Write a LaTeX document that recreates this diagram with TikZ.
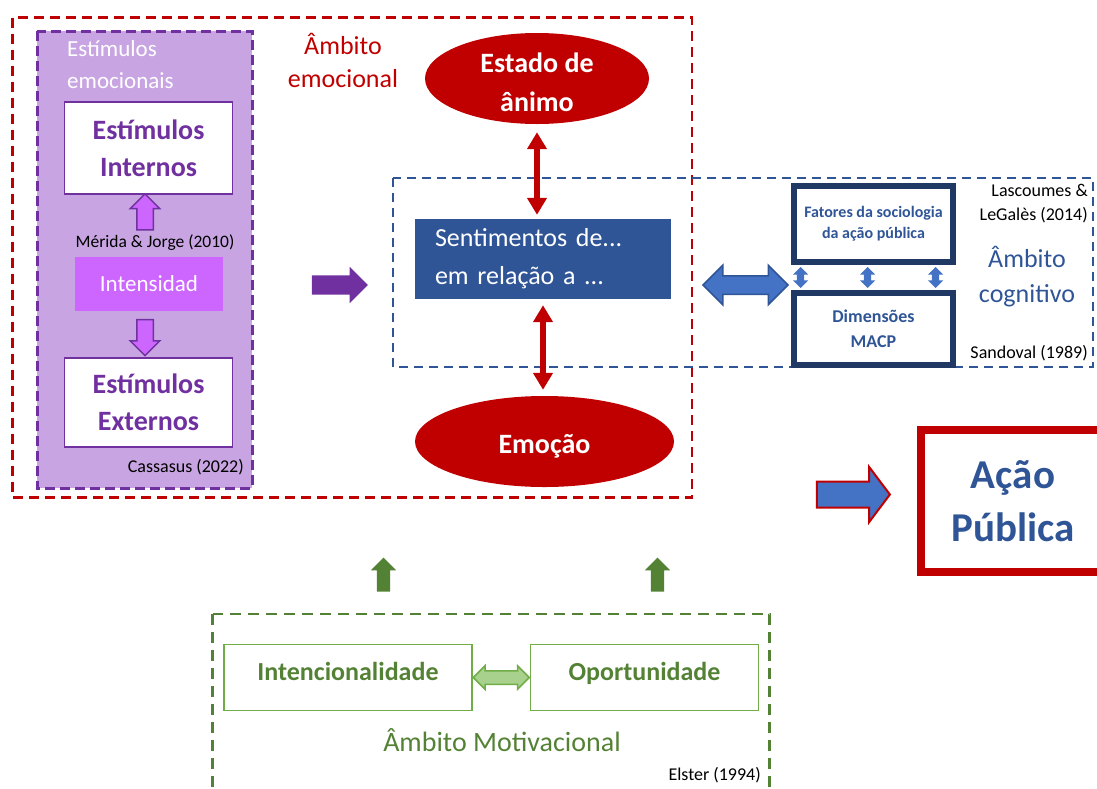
\documentclass[tikz,border=0pt]{standalone}
\usepackage{fontspec}
\setmainfont{Carlito}
\usepackage{tikz}
\usetikzlibrary{arrows.meta}
\usetikzlibrary{shapes.geometric}
\usetikzlibrary{shapes.arrows}

\definecolor{emored}{HTML}{C00000}
\definecolor{stimpurple}{HTML}{7030A0}
\definecolor{stimlilac}{HTML}{C8A5E2}
\definecolor{stimpink}{HTML}{CC66FF}
\definecolor{cogblue}{HTML}{2F5597}
\definecolor{cogmid}{HTML}{4472C4}
\definecolor{cognavy}{HTML}{203864}
\definecolor{motgreen}{HTML}{548235}
\definecolor{motline}{HTML}{70AD47}
\definecolor{motlight}{HTML}{A9D18E}

\newcommand{\fsz}[2]{\fontsize{#1}{#2}\selectfont}

\tikzset{
  stimbox/.style={draw=stimpurple,line width=1.5,fill=white,minimum width=168,minimum height=92,
    text=stimpurple,font=\bfseries\fsz{28}{37},align=center},
  stimarrow/.style={single arrow,draw=stimpurple,line width=1.5,fill=stimpink,inner sep=7.5,
    minimum height=36,single arrow head extend=6.5},
  cogbox/.style={draw=cognavy,line width=6,minimum width=159,minimum height=76,
    text=cogblue,align=center,font=\bfseries\fsz{16}{21}},
  cogarrow/.style={double arrow,shape border rotate=90,fill=cogmid,inner sep=3.5,
    minimum height=21,double arrow head extend=4},
  motbox/.style={draw=motline,line width=1.5,minimum height=66,text=motgreen,
    text height=0.7em,text depth=0.2em,font=\bfseries\fsz{26}{30}},
  motarrow/.style={single arrow,shape border rotate=90,fill=motgreen,inner sep=6.5,
    minimum height=34,single arrow head extend=6},
  emoell/.style={ellipse,fill=emored,inner sep=0},
  emotext/.style={text=white,font=\bfseries\fsz{28}{39},align=center},
  citetext/.style={font=\fsz{18}{24},align=right,inner sep=0},
  twoway/.style={draw=emored,line width=6,{Triangle[length=17pt,width=19pt]}-{Triangle[length=17pt,width=19pt]}},
}

\begin{document}
\begin{tikzpicture}[x=1pt,y=-1pt]
  \useasboundingbox (0,0) rectangle (1097,788);
  % ambito emocional
  \draw[emored,line width=2.5,dash pattern=on 10 off 6] (12.5,17.5) rectangle (692,497.5);
  \node[text=emored,font=\fsz{26}{33},align=center] (emolabel) at (343,60) {Âmbito\\emocional};
  % estimulos emocionais
  \draw[stimpurple,fill=stimlilac,line width=3,dash pattern=on 10 off 5] (37,31) rectangle (252,488);
  \node[anchor=west,text=white,font=\fsz{23}{32},align=left,inner sep=0] (stimlabel) at (67,64.5) {Estímulos\\emocionais};
  \node[stimbox] (internos) at (148.5,148) {Estímulos\\Internos};
  \node[stimbox,minimum height=89] (externos) at (148.5,402.5) {Estímulos\\Externos};
  \node[fill=stimpink,minimum width=148,minimum height=54,text=white,font=\fsz{23}{28}] (intens) at (149,284) {Intensidad};
  \node[font=\fsz{17.5}{20},inner sep=0] (merida) at (155,243) {Mérida \& Jorge (2010)};
  \node[stimarrow,shape border rotate=90] (up) at (145,216) {};
  \node[stimarrow,shape border rotate=270] (down) at (145,333.5) {};
  \node[citetext,anchor=east] (cassasus) at (244,467) {Cassasus (2022)};
  \node[single arrow,fill=stimpurple,inner sep=9.5,minimum height=56,
    single arrow head extend=8.5] (tosent) at (335,285) {};
  % estado de animo / emocao
  \node[emoell,minimum width=224,minimum height=91] (animo) at (537,78.5) {};
  \node[emotext] (animotext) at ([yshift=-4]animo.center) {Estado de\\ânimo};
  \node[emoell,minimum width=259,minimum height=91] (emocao) at (544.5,441.5) {};
  \node[emotext] (emocaotext) at ([yshift=-5]emocao.center) {Emoção};
  % ambito cognitivo
  \draw[cogblue,line width=2.5,dash pattern=on 9 off 6] (393,178) rectangle (1093,367);
  \node[fill=cogblue,minimum width=256,minimum height=80,text width=216,inner xsep=20,
    align=left,text=white,font=\fsz{26}{38}] (sent) at (543,259) {Sentimentos de...\\em relação a ...};
  \draw[twoway,shorten <=8,shorten >=4] (animo.south) -- (animo.south |- sent.north);
  \draw[twoway,shorten <=6,shorten >=6] (sent.south) -- (sent.south |- emocao.north);
  \node[double arrow,draw=cogblue,line width=1.5,fill=cogmid,inner sep=8.5,minimum height=85,
    double arrow head extend=10.5] (link) at (745.5,285) {};
  \node[cogbox] (fatores) at (873.5,224) {Fatores da sociologia\\da ação pública};
  \node[cogbox,minimum height=72,font=\bfseries\fsz{18}{25}] (dimens) at (873.5,329) {Dimensões\\MACP};
  \foreach \dx in {-73,-6,62}
    \path ([xshift=\dx]fatores.south) -- ([xshift=\dx]dimens.north) node[midway,cogarrow] {};
  \node[citetext,anchor=east] (lascoumes) at (1088,204) {Lascoumes \&\\LeGalès (2014)};
  \node[text=cogblue,font=\fsz{26}{35},align=center] (coglabel) at (1027,276.5) {Âmbito\\cognitivo};
  \node[citetext,anchor=east] (sandoval) at (1088,353) {Sandoval (1989)};
  % acao publica
  \node[single arrow,draw=emored,line width=2,fill=cogmid,inner sep=12,minimum height=73,
    single arrow head extend=14.5,single arrow tip angle=106] (toacao) at (848.5,494.5) {};
  \node[draw=emored,line width=8,minimum width=184,minimum height=142,text=cogblue,
    font=\bfseries\fsz{41}{53},align=center] (acao) at (1013,501) {Ação\\Pública};
  % ambito motivacional
  \node[motarrow] (upleft) at (383.5,578) {};
  \node[motarrow] (upright) at (657.5,578) {};
  \draw[motgreen,line width=2.5,dash pattern=on 11 off 7] (212.5,614) rectangle (769.5,800);
  \node[motbox,minimum width=248] (intenc) at (348,677.5) {Intencionalidade};
  \node[motbox,minimum width=228] (oport) at (644.5,677.5) {Oportunidade};
  \path (intenc.east) -- (oport.west) node[midway,double arrow,draw=motline,fill=motlight,
    line width=1.5,inner sep=6,minimum height=56,double arrow head extend=5] (mutual) {};
  \node[text=motgreen,font=\fsz{28}{34}] (motlabel) at (502,740) {Âmbito Motivacional};
  \node[citetext,anchor=east] (elster) at (761,775) {Elster (1994)};
\end{tikzpicture}
\end{document}
